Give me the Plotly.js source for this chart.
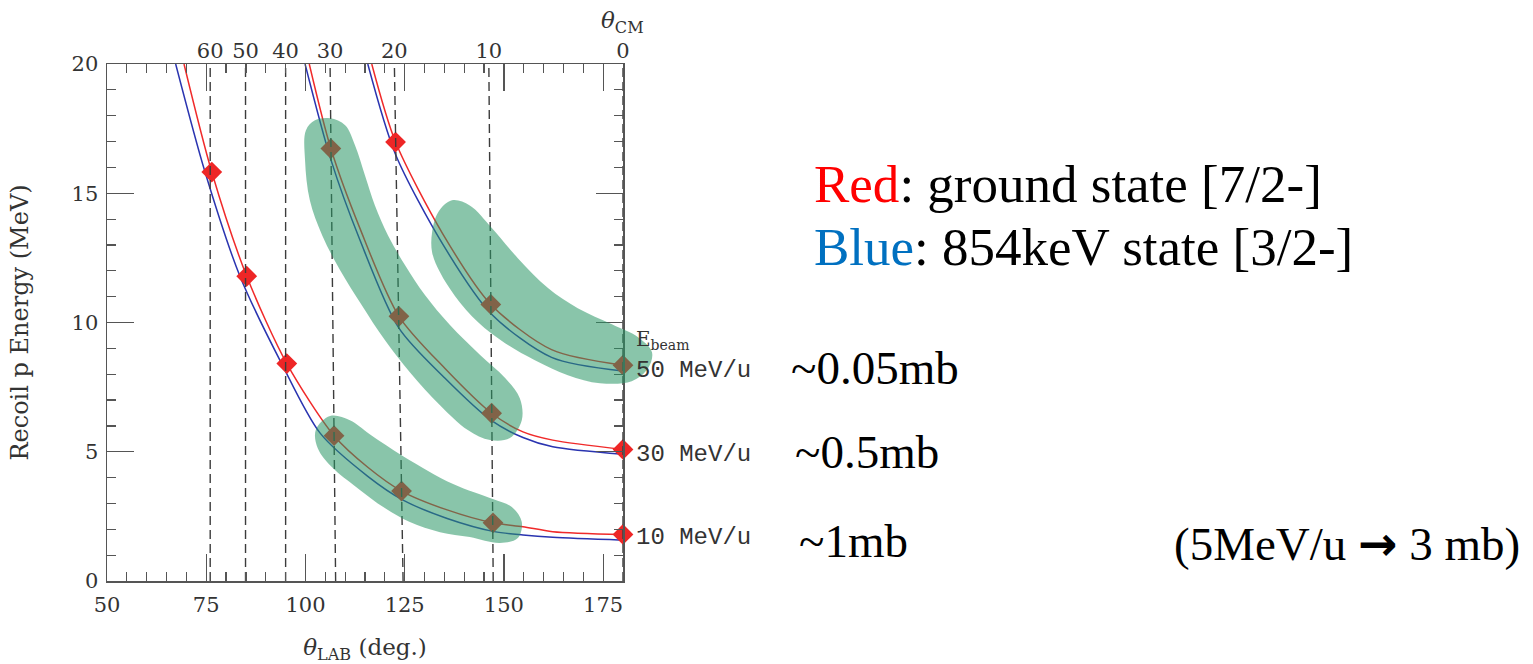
<!DOCTYPE html>
<html><head><meta charset="utf-8">
<script src="https://cdn.plot.ly/plotly-3.0.1.min.js"></script>
<style>html,body{margin:0;padding:0;background:#fff;}#chart{width:1533px;height:664px;}</style>
</head><body><div id="chart"></div>
<script>
// ---------------- data ----------------
// CM angle guide lines: lab angle where each reaches E=0 (bottom) and E=20 (top)
const cmAngles = [60, 50, 40, 30, 20, 10, 0];
const cmLabBottom = [76.0, 84.9, 95.0, 107.6, 124.6, 147.3, 180];
const cmLabTop = [76.0, 84.9, 95.0, 106.2, 122.4, 146.2, 180];

// 10 MeV/u
const red10_x = [69.4, 76.4, 85.2, 95.3, 107.2, 115.7, 124.2, 135.7, 147.25, 154.8, 162.3, 180];
const red10_y = [20, 15.82, 11.79, 8.41, 5.62, 4.4, 3.48, 2.75, 2.25, 2.10, 1.91, 1.80];
const blue10_x = [67.3, 74.7, 83.5, 94.0, 103.7, 115.7, 124.6, 135.7, 147.6, 154.8, 162.3, 180];
const blue10_y = [20, 15.82, 11.79, 8.41, 5.72, 4.05, 3.13, 2.42, 1.91, 1.78, 1.69, 1.58];
// 30 MeV/u
const red30_x = [100.96, 106.4, 113.7, 123.55, 135.1, 146.9, 154.8, 162.3, 180];
const red30_y = [20, 16.73, 13.65, 10.24, 8.23, 6.49, 5.77, 5.45, 5.09];
const blue30_x = [99.9, 106.4, 113.7, 123.55, 135.1, 146.9, 154.8, 162.3, 180];
const blue30_y = [20, 16.3, 13.2, 9.78, 7.85, 6.2, 5.55, 5.19, 4.90];
// 50 MeV/u
const red50_x = [116.7, 122.7, 134.7, 146.7, 162.0, 180];
const red50_y = [20, 16.98, 13.4, 10.7, 8.95, 8.35];
const blue50_x = [115.7, 122.7, 134.7, 146.7, 162.0, 180];
const blue50_y = [20, 16.5, 13.0, 10.35, 8.65, 8.12];

// diamond markers (ground state at the CM angles)
const diam10_x = [76.4, 85.2, 95.3, 107.2, 124.2, 147.25, 180];
const diam10_y = [15.82, 11.79, 8.41, 5.62, 3.48, 2.25, 1.80];
const diam30_x = [106.4, 123.55, 146.9, 180];
const diam30_y = [16.73, 10.24, 6.49, 5.09];
const diam50_x = [122.7, 146.7, 180];
const diam50_y = [16.98, 10.7, 8.35];

// highlighted (green) regions, outlines in (theta_lab, E)
const blobA_x = [106.2, 111.2, 116.2, 124.6, 137.2, 147.2, 152.0, 154.5, 153.5, 149.0, 141.4, 133.9, 126.3, 120.0, 112.5, 106.9, 103.1, 102.6, 106.2];
const blobA_y = [6.38, 6.22, 5.68, 4.83, 3.75, 3.17, 2.86, 2.28, 1.66, 1.47, 1.70, 1.89, 2.28, 2.82, 3.67, 4.37, 5.14, 5.84, 6.38];
const blobB_x = [100.1, 99.9, 101.1, 104.2, 108.7, 114.2, 120.0, 126.3, 133.9, 140.9, 146.5, 151.5, 154.5, 154.0, 150.3, 144.0, 136.4, 130.1, 125.1, 120.8, 117.5, 115.0, 112.5, 110.0, 106.2, 102.4, 100.1];
const blobB_y = [17.43, 16.27, 14.73, 13.38, 12.03, 10.67, 9.32, 8.08, 6.80, 5.84, 5.45, 5.53, 6.22, 7.07, 7.85, 8.74, 9.90, 11.06, 12.21, 13.37, 14.53, 15.69, 16.85, 17.63, 17.90, 17.82, 17.43];
const blobC_x = [131.9, 133.4, 136.9, 141.4, 147.0, 153.5, 161.1, 168.6, 177.2, 183.8, 187.3, 186.3, 182.2, 174.2, 166.1, 157.8, 150.3, 143.5, 137.7, 133.9, 131.9, 131.9];
const blobC_y = [13.49, 14.26, 14.73, 14.53, 13.65, 12.49, 11.33, 10.55, 9.93, 9.43, 8.85, 8.23, 7.73, 7.65, 7.96, 8.54, 9.20, 10.01, 11.02, 11.94, 12.72, 13.49];

const beamLabels = ['50 MeV/u', '30 MeV/u', '10 MeV/u'];
const xsLabels = ['~0.05mb', '~0.5mb', '~1mb'];

// ---------------- layout geometry ----------------
const W = 1533, H = 664;
const PL = 107, PR = 623, PT = 64, PB = 581;
const XMIN = 50, XMAX = 180;
const EXT = 700; // right edge (px) of the overlay area used for the highlight regions
const px = v => v / W;
const py = v => (H - v) / H;

const RED = '#f02a2a', BLUE = '#2a34b0';
const serif = 'DejaVu Serif';

function curve(x, y, color) {
  return {x, y, xaxis: 'x', yaxis: 'y', mode: 'lines', type: 'scatter',
    line: {color, width: 1.5, shape: 'spline', smoothing: 0.8},
    hoverinfo: 'skip', showlegend: false};
}
function diamonds(x, y) {
  return {x, y, xaxis: 'x', yaxis: 'y', mode: 'markers', type: 'scatter', cliponaxis: false,
    marker: {symbol: 'diamond', size: 16, color: '#ee2626', line: {width: 0}},
    hoverinfo: 'skip', showlegend: false};
}
function blob(x, y) {
  return {x, y, xaxis: 'x3', yaxis: 'y3', mode: 'lines', type: 'scatter', fill: 'toself',
    fillcolor: 'rgba(40,150,100,0.55)', line: {width: 0, shape: 'spline', smoothing: 1},
    hoverinfo: 'skip', showlegend: false};
}

// dashed constant-CM-angle guides
const gx = [], gy = [];
cmAngles.forEach((a, i) => { gx.push(cmLabBottom[i], cmLabTop[i], null); gy.push(0, 20, null); });

const traces = [
  {x: gx, y: gy, xaxis: 'x2', yaxis: 'y', mode: 'lines', type: 'scatter',
   line: {color: '#3c3c3c', width: 1.4, dash: '9px,5px'}, hoverinfo: 'skip', showlegend: false},
  curve(blue10_x, blue10_y, BLUE), curve(red10_x, red10_y, RED),
  curve(blue30_x, blue30_y, BLUE), curve(red30_x, red30_y, RED),
  curve(blue50_x, blue50_y, BLUE), curve(red50_x, red50_y, RED),
  diamonds(diam10_x, diam10_y), diamonds(diam30_x, diam30_y), diamonds(diam50_x, diam50_y),
  blob(blobA_x, blobA_y), blob(blobB_x, blobB_y), blob(blobC_x, blobC_y)
];

const axCol = '#555';
const tickFont = {family: serif, size: 21, color: '#333'};

const annotations = [
  {text: '<i>θ</i><sub>CM</sub>', x: px(622), y: py(22), xanchor: 'center', yanchor: 'middle',
   font: {family: serif, size: 23, color: '#333'}},
  {text: 'E<sub>beam</sub>', x: px(634), y: py(340), xanchor: 'left', yanchor: 'middle',
   font: {family: serif, size: 20, color: '#333'}},
  {text: beamLabels[0], x: px(634), y: py(370), xanchor: 'left', yanchor: 'middle',
   font: {family: 'Liberation Mono', size: 24, color: '#333'}},
  {text: beamLabels[1], x: px(634), y: py(454), xanchor: 'left', yanchor: 'middle',
   font: {family: 'Liberation Mono', size: 24, color: '#333'}},
  {text: beamLabels[2], x: px(634), y: py(537), xanchor: 'left', yanchor: 'middle',
   font: {family: 'Liberation Mono', size: 24, color: '#333'}},
  {text: xsLabels[0], x: px(789), y: py(368), xanchor: 'left', yanchor: 'middle',
   font: {family: 'Liberation Serif', size: 47, color: '#000'}},
  {text: xsLabels[1], x: px(793), y: py(452), xanchor: 'left', yanchor: 'middle',
   font: {family: 'Liberation Serif', size: 47, color: '#000'}},
  {text: xsLabels[2], x: px(797), y: py(541), xanchor: 'left', yanchor: 'middle',
   font: {family: 'Liberation Serif', size: 47, color: '#000'}},
  {text: '<span style="color:#ff0000">Red</span>: ground state [7/2-]', x: px(812), y: py(184),
   xanchor: 'left', yanchor: 'middle', font: {family: 'Liberation Serif', size: 53, color: '#000'}},
  {text: '<span style="color:#0070c0">Blue</span>: 854keV state [3/2-]', x: px(812), y: py(247),
   xanchor: 'left', yanchor: 'middle', font: {family: 'Liberation Serif', size: 53, color: '#000'}},
  {text: '(5MeV/u <span style="font-family:\'DejaVu Sans\';font-weight:bold">→</span> 3 mb)', x: px(1172), y: py(543), xanchor: 'left', yanchor: 'middle',
   font: {family: 'Liberation Serif', size: 47, color: '#000'}}
].map(a => Object.assign({xref: 'paper', yref: 'paper', showarrow: false}, a));

const layout = {
  width: W, height: H,
  margin: {l: 0, r: 0, t: 0, b: 0, pad: 0},
  paper_bgcolor: '#fff', plot_bgcolor: 'rgba(0,0,0,0)',
  showlegend: false,
  xaxis: {
    domain: [PL / W, PR / W], range: [XMIN, XMAX], anchor: 'y',
    tick0: 50, dtick: 25, ticks: 'inside', ticklen: 27, tickwidth: 1.3, tickcolor: axCol,
    minor: {tick0: 50, dtick: 5, ticks: 'inside', ticklen: 9, tickwidth: 1.2, tickcolor: axCol, showgrid: false},
    showline: true, linecolor: axCol, linewidth: 1.5, mirror: 'ticks',
    showgrid: false, zeroline: false, tickfont: tickFont, ticklabelstandoff: 4,
    title: {text: '<i>θ</i><sub>LAB</sub> (deg.)', font: {family: serif, size: 23, color: '#333'}, standoff: 30},
    automargin: false
  },
  xaxis2: {
    overlaying: 'x', side: 'top', anchor: 'y', range: [XMIN, XMAX],
    tickmode: 'array', tickvals: cmLabTop, ticktext: cmAngles.map(String),
    ticks: '', showline: false, showgrid: false, zeroline: false,
    tickfont: tickFont, ticklabelstandoff: 1, automargin: false
  },
  yaxis: {
    domain: [(H - PB) / H, (H - PT) / H], range: [0, 20], anchor: 'x',
    tick0: 0, dtick: 5, ticks: 'inside', ticklen: 27, tickwidth: 1.3, tickcolor: axCol,
    minor: {tick0: 0, dtick: 1, ticks: 'inside', ticklen: 9, tickwidth: 1.2, tickcolor: axCol, showgrid: false},
    showline: true, linecolor: axCol, linewidth: 1.5, mirror: 'ticks',
    showgrid: false, zeroline: false, tickfont: tickFont, ticklabelstandoff: 3,
    title: {text: 'Recoil p Energy (MeV)', font: {family: serif, size: 24, color: '#333'}, standoff: 36},
    automargin: false
  },
  xaxis3: {domain: [PL / W, EXT / W], range: [XMIN, XMIN + (XMAX - XMIN) * (EXT - PL) / (PR - PL)],
    anchor: 'y3', visible: false, fixedrange: true},
  yaxis3: {domain: [(H - PB) / H, (H - PT) / H], range: [0, 20], anchor: 'x3', visible: false, fixedrange: true},
  annotations
};

Plotly.newPlot('chart', traces, layout, {staticPlot: true, displayModeBar: false});
</script>
</body></html>
